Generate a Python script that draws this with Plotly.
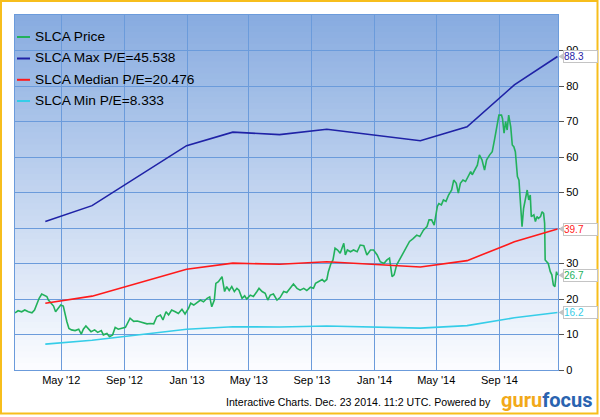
import plotly.graph_objects as go

# ---------------- data ----------------
price_dates = [
    "2012-02-01", "2012-02-07", "2012-02-14", "2012-02-20", "2012-02-27", "2012-03-05", "2012-03-10",
    "2012-03-15", "2012-03-19", "2012-03-24", "2012-03-29", "2012-04-03", "2012-04-06", "2012-04-11",
    "2012-04-16", "2012-04-20", "2012-04-25", "2012-04-30", "2012-05-05", "2012-05-08", "2012-05-12",
    "2012-05-16", "2012-05-21", "2012-05-28", "2012-06-04", "2012-06-09", "2012-06-13", "2012-06-18",
    "2012-06-23", "2012-06-28", "2012-07-05", "2012-07-11", "2012-07-18", "2012-07-22", "2012-07-29",
    "2012-08-03", "2012-08-09", "2012-08-14", "2012-08-20", "2012-08-27", "2012-09-03", "2012-09-12",
    "2012-09-19", "2012-09-26", "2012-10-02", "2012-10-08", "2012-10-15", "2012-10-21", "2012-10-28",
    "2012-11-03", "2012-11-10", "2012-11-15", "2012-11-21", "2012-11-26", "2012-12-02", "2012-12-09",
    "2012-12-15", "2012-12-22", "2012-12-28", "2013-01-04", "2013-01-08", "2013-01-14", "2013-01-20",
    "2013-01-27", "2013-02-02", "2013-02-09", "2013-02-14", "2013-02-18", "2013-02-23", "2013-02-26",
    "2013-03-03", "2013-03-10", "2013-03-15", "2013-03-19", "2013-03-24", "2013-03-29", "2013-04-03",
    "2013-04-08", "2013-04-12", "2013-04-18", "2013-04-23", "2013-04-27", "2013-05-04", "2013-05-10",
    "2013-05-17", "2013-05-21", "2013-05-27", "2013-06-02", "2013-06-07", "2013-06-12", "2013-06-18",
    "2013-06-25", "2013-07-01", "2013-07-08", "2013-07-14", "2013-07-21", "2013-07-27", "2013-08-03",
    "2013-08-09", "2013-08-16", "2013-08-22", "2013-08-29", "2013-09-04", "2013-09-08", "2013-09-14",
    "2013-09-21", "2013-09-25", "2013-09-30", "2013-10-03", "2013-10-08", "2013-10-12", "2013-10-16",
    "2013-10-21", "2013-10-26", "2013-11-02", "2013-11-05", "2013-11-09", "2013-11-15", "2013-11-21",
    "2013-11-28", "2013-12-04", "2013-12-11", "2013-12-17", "2013-12-24", "2013-12-30", "2014-01-06",
    "2014-01-12", "2014-01-19", "2014-01-25", "2014-01-30", "2014-02-04", "2014-02-08", "2014-02-13",
    "2014-02-20", "2014-02-27", "2014-03-05", "2014-03-10", "2014-03-17", "2014-03-24", "2014-03-30",
    "2014-04-06", "2014-04-13", "2014-04-17", "2014-04-22", "2014-04-27", "2014-05-03", "2014-05-06",
    "2014-05-11", "2014-05-15", "2014-05-20", "2014-05-25", "2014-05-31", "2014-06-04", "2014-06-09",
    "2014-06-13", "2014-06-17", "2014-06-22", "2014-06-27", "2014-07-02", "2014-07-07", "2014-07-10",
    "2014-07-15", "2014-07-20", "2014-07-24", "2014-07-29", "2014-08-03", "2014-08-07", "2014-08-13",
    "2014-08-18", "2014-08-23", "2014-08-28", "2014-08-31", "2014-09-05", "2014-09-07", "2014-09-10",
    "2014-09-13", "2014-09-16", "2014-09-19", "2014-09-23", "2014-09-26", "2014-09-29", "2014-10-02",
    "2014-10-06", "2014-10-09", "2014-10-12", "2014-10-15", "2014-10-18", "2014-10-22", "2014-10-25",
    "2014-10-28", "2014-10-31", "2014-11-02", "2014-11-07", "2014-11-10", "2014-11-13", "2014-11-16",
    "2014-11-20", "2014-11-23", "2014-11-26", "2014-11-28", "2014-11-29", "2014-12-02", "2014-12-05",
    "2014-12-09", "2014-12-12", "2014-12-15", "2014-12-18", "2014-12-21", "2014-12-23",
]
price_values = [
    16.1, 16.7, 16.4, 16.9, 16.4, 16.1, 16.9,
    18.8, 20.2, 21.4, 21.1, 20.7, 19.7, 18.8,
    18.0, 16.4, 17.4, 18.3, 18.0, 16.0, 13.6,
    11.7, 11.3, 11.1, 11.5, 10.1, 11.5, 12.4,
    11.5, 10.8, 11.3, 10.6, 11.1, 9.9, 10.3,
    9.4, 9.9, 12.0, 11.5, 11.7, 12.0, 14.6,
    13.7, 13.8, 13.6, 13.3, 13.0, 13.1, 13.0,
    15.0, 15.5, 14.1, 16.4, 15.5, 16.9, 16.4,
    15.9, 17.1, 15.8, 17.4, 18.8, 18.3, 19.0,
    19.7, 19.2, 20.2, 20.6, 17.8, 19.7, 24.4,
    24.9, 26.3, 22.1, 23.5, 22.4, 23.5, 22.1,
    23.0, 22.5, 20.2, 20.9, 20.0, 21.1, 20.7,
    22.1, 23.0, 22.1, 21.6, 19.7, 21.1, 21.4,
    19.7, 20.4, 22.1, 21.8, 23.0, 24.2, 23.0,
    22.5, 23.0, 22.4, 23.3, 23.0, 24.4, 24.9,
    25.5, 24.9, 25.5, 27.7, 30.0, 31.0, 34.3,
    33.8, 32.9, 35.7, 32.4, 33.8, 33.3, 33.8,
    33.3, 35.2, 35.0, 32.4, 33.8, 33.8, 32.4,
    30.5, 30.0, 31.0, 31.5, 26.3, 26.8, 29.6,
    31.5, 33.3, 35.2, 36.2, 37.0, 38.0, 37.6,
    39.4, 40.4, 42.3, 42.3, 40.8, 46.0, 46.9,
    46.5, 47.9, 47.5, 49.3, 50.7, 53.5, 52.6,
    49.8, 52.6, 53.5, 53.1, 54.5, 55.9, 55.0,
    56.3, 57.7, 60.6, 59.2, 56.3, 59.2, 60.6,
    61.5, 65.3, 69.0, 71.8, 71.8, 70.8, 66.7,
    70.0, 67.6, 71.8, 68.5, 63.4, 62.9, 61.5,
    54.5, 53.5, 46.9, 40.4, 45.5, 48.8, 50.7,
    47.9, 49.3, 43.2, 43.7, 41.8, 43.2, 42.7,
    43.2, 44.6, 44.1, 41.3, 31.0, 30.5, 30.0,
    27.7, 26.8, 23.9, 23.5, 27.7, 26.7,
]

pe_dates = ["2012-03-31", "2012-06-30", "2012-12-31", "2013-03-31", "2013-06-30",
            "2013-09-30", "2014-03-31", "2014-06-30", "2014-09-30", "2014-12-23"]
max_pe_values = [41.8, 46.3, 63.2, 67.0, 66.3, 67.8, 64.6, 68.5, 80.3, 88.3]
median_pe_values = [18.8, 20.8, 28.4, 30.1, 29.8, 30.5, 29.0, 30.8, 36.1, 39.7]
min_pe_values = [7.3, 8.4, 11.5, 12.2, 12.1, 12.4, 11.8, 12.5, 14.7, 16.2]

series_names = ["SLCA Price", "SLCA Max P/E=45.538", "SLCA Median P/E=20.476", "SLCA Min P/E=8.333"]

x_tick_dates = ["2012-05-01", "2012-09-01", "2013-01-01", "2013-05-01",
                "2013-09-01", "2014-01-01", "2014-05-01", "2014-09-01"]
x_tick_labels = ["May '12", "Sep '12", "Jan '13", "May '13", "Sep '13", "Jan '14", "May '14", "Sep '14"]
y_tick_values = [0, 10, 20, 30, 40, 50, 60, 70, 80, 90]

footer_text = "Interactive Charts. Dec. 23 2014. 11:2 UTC. Powered by"

# ---------------- style ----------------
W, H = 600, 417
ML, MR, MT, MB = 15, 42, 15, 47
PW, PH = W - ML - MR, H - MT - MB
FONT = "Liberation Sans, Arial, sans-serif"
colors = ["#22b15c", "#1f22a6", "#ff1a1a", "#35cde8"]
grid_color = "#6b9bdb"


def px_x(px):
    return (px - ML) / PW


def px_y(py):
    return (H - MB - py) / PH


fig = go.Figure()
series = [(price_dates, price_values), (pe_dates, max_pe_values),
          (pe_dates, median_pe_values), (pe_dates, min_pe_values)]
for (xs, ys), name, col in zip(series, series_names, colors):
    fig.add_trace(go.Scatter(x=xs, y=ys, mode="lines", name=name,
                             line=dict(color=col, width=1.6), showlegend=False))

shapes = []
# gradient background
top = (136, 172, 224)
bot = (251, 252, 255)
n = 60
for i in range(n):
    t = i / (n - 1)
    c = tuple(round(top[k] + (bot[k] - top[k]) * t) for k in range(3))
    shapes.append(dict(type="rect", xref="paper", yref="paper", x0=0, x1=1,
                       y0=1 - (i + 1) / n, y1=1 - i / n + 0.002, layer="below",
                       line=dict(width=0), fillcolor="rgb(%d,%d,%d)" % c))
# outer golden frame
shapes.append(dict(type="rect", xref="paper", yref="paper",
                   x0=px_x(1), x1=px_x(597.5), y0=px_y(413.5), y1=px_y(1),
                   line=dict(color="#f7be1c", width=2), fillcolor="rgba(0,0,0,0)"))

annotations = []
# legend (drawn as text + short line samples)
legend_y = [36.5, 58, 79.3, 100.5]
for name, col, ly in zip(series_names, colors, legend_y):
    shapes.append(dict(type="line", xref="paper", yref="paper",
                       x0=px_x(17), x1=px_x(30), y0=px_y(ly + 0.5), y1=px_y(ly + 0.5),
                       line=dict(color=col, width=2)))
    annotations.append(dict(text=name, xref="paper", yref="paper", x=px_x(33), y=px_y(ly),
                            xanchor="left", yanchor="middle", showarrow=False,
                            font=dict(family=FONT, size=13.7, color="#000")))

# end value boxes on the right axis
for (xs, ys), col in zip(series, colors):
    v = ys[-1]
    annotations.append(dict(text="%.1f" % v, xref="paper", yref="y", x=1, y=v,
                            xanchor="left", yanchor="middle", xshift=5, showarrow=False,
                            width=33, height=11, align="left", bgcolor="white",
                            bordercolor="#c4c4c4", borderwidth=1, borderpad=0,
                            font=dict(family=FONT, size=10, color=col)))
    shapes.append(dict(type="path", xref="paper", yref="y",
                       path="M %f %f L %f %f L %f %f Z" % (px_x(558.5), v, px_x(563.5), v + 0.9,
                                                           px_x(563.5), v - 0.9),
                       fillcolor="#c4c4c4", line=dict(width=0)))

# footer
annotations.append(dict(text=footer_text, xref="paper", yref="paper", x=px_x(493), y=px_y(401.5),
                        xanchor="right", yanchor="middle", showarrow=False,
                        font=dict(family=FONT, size=10.6, color="#000")))
annotations.append(dict(text="<b><span style='color:#f2a91a'>guru</span><span style='color:#2a63b0'>focus</span></b>",
                        xref="paper", yref="paper", x=px_x(547), y=px_y(400),
                        xanchor="center", yanchor="middle", showarrow=False,
                        font=dict(family="Roboto, Liberation Sans, sans-serif", size=20)))

fig.update_layout(
    width=W, height=H, margin=dict(l=ML, r=MR, t=MT, b=MB),
    paper_bgcolor="white", plot_bgcolor="#dfe8f6",
    shapes=shapes, annotations=annotations, showlegend=False,
    font=dict(family=FONT, size=11, color="#000"),
)
fig.update_xaxes(type="date", range=["2012-02-01", "2014-12-24"],
                 tickvals=x_tick_dates, ticktext=x_tick_labels, ticks="",
                 showgrid=True, gridcolor=grid_color, gridwidth=1,
                 showline=True, linecolor=grid_color, linewidth=1, mirror=True,
                 tickfont=dict(family=FONT, size=11, color="#000"), zeroline=False)
fig.update_yaxes(side="right", range=[0, 100], tickvals=y_tick_values,
                 ticks="outside", ticklen=5, tickcolor="#555", tickwidth=1,
                 showgrid=True, gridcolor=grid_color, gridwidth=1,
                 showline=True, linecolor=grid_color, linewidth=1, mirror=True,
                 tickfont=dict(family=FONT, size=11, color="#000"), zeroline=False)

fig.write_html("out.html")
